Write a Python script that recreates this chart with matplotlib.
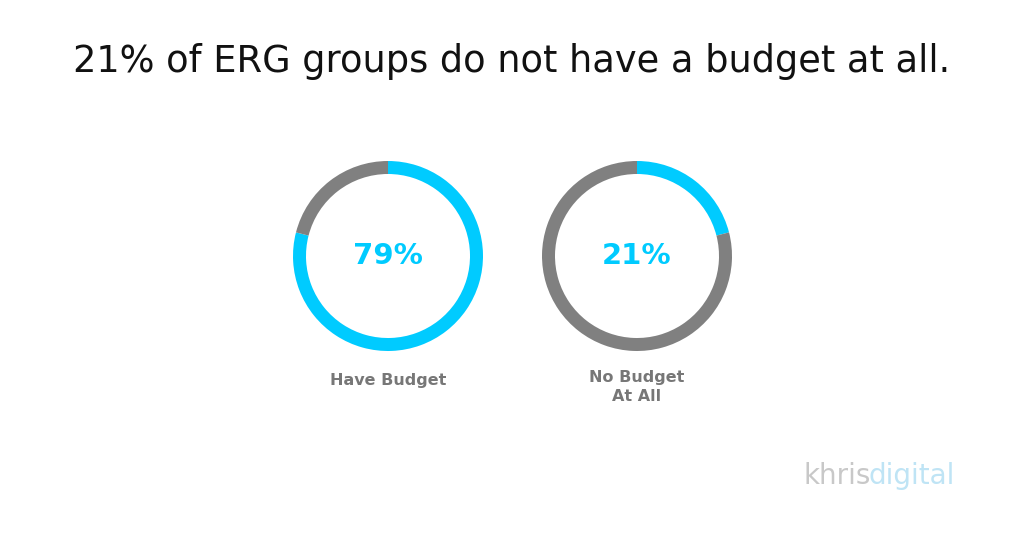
import matplotlib
matplotlib.use("Agg")
import matplotlib.pyplot as plt

title = "21% of ERG groups do not have a budget at all."
labels = ["Have Budget", "No Budget\nAt All"]
values = [79, 21]
BLUE = "#00CBFF"
GRAY = "#808080"

fig = plt.figure(figsize=(10.24, 5.36), dpi=100)
ax = fig.add_axes([0, 0, 1, 1])

H = 536
centers = [(388, 256), (637, 256)]
label_y = [380, 370]
for (cx, cy), v, lab, ly in zip(centers, values, labels, label_y):
    ax.pie([v, 100 - v], colors=[BLUE, GRAY], startangle=90, counterclock=False,
           center=(cx, H - cy), radius=95, wedgeprops=dict(width=13, edgecolor="none"),
           frame=True)
    ax.text(cx, H - cy, f"{v}%", ha="center", va="center", fontsize=21,
            fontweight="bold", color=BLUE, family="DejaVu Sans")
    ax.text(cx, H - ly, lab, ha="center", va="top" if "\n" in lab else "center",
            fontsize=11.5, fontweight="bold", color="#777777", family="DejaVu Sans",
            linespacing=1.3)

ax.set_xlim(0, 1024)
ax.set_ylim(0, 536)
ax.set_aspect("equal")
ax.axis("off")
ax.text(512, H - 62, title, ha="center", va="center", fontsize=26.5, color="#111111",
        family="DejaVu Sans")
ax.text(803, H - 476, "khris", ha="left", va="center", fontsize=20, color="#c8c8c8", family="DejaVu Sans")
ax.text(868, H - 476, "digital", ha="left", va="center", fontsize=20, color="#bfe4f5", family="DejaVu Sans")
fig.savefig("out.png", dpi=100)
